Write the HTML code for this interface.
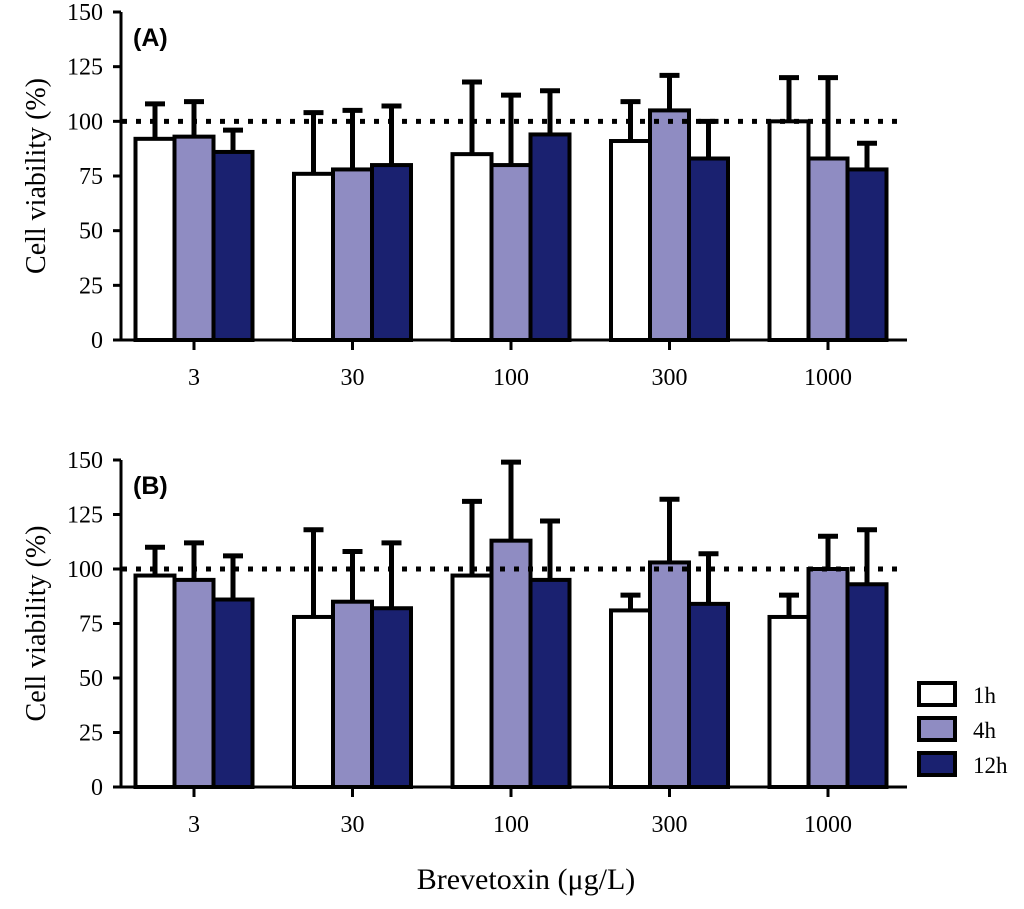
<!DOCTYPE html>
<html><head><meta charset="utf-8"><style>
body{margin:0;background:#fff}
svg text{font-family:"Liberation Serif",serif}
</style></head><body>
<svg id="c" width="1024" height="904" xmlns="http://www.w3.org/2000/svg"></svg>
<script>
const categories=["3","30","100","300","1000"];
const series=["1h","4h","12h"];
const colors=["#ffffff","#8f8cc2","#1a2170"];
const yTicks=[0,25,50,75,100,125,150];
const aMeans=[[92,76,85,91,100],[93,78,80,105,83],[86,80,94,83,78]];
const aTops=[[108,104,118,109,120],[109,105,112,121,120],[96,107,114,100,90]];
const bMeans=[[97,78,97,81,78],[95,85,113,103,100],[86,82,95,84,93]];
const bTops=[[110,118,131,88,88],[112,108,149,132,115],[106,112,122,107,118]];
const NS="http://www.w3.org/2000/svg";
const svg=document.getElementById('c');
function mk(t,a,p){const e=document.createElementNS(NS,t);for(const k in a)e.setAttribute(k,a[k]);(p||svg).appendChild(e);return e;}
function panel(id,y0,y150,means,tops,label){
  const g=mk('g',{});
  
  
  const y=v=>y0+(y150-y0)*v/150;
  const gx=i=>194+i*158.5;
  const bw=39;
  for(let s=0;s<3;s++)for(let i=0;i<5;i++){
    const x=gx(i)+(s-1)*bw-bw/2, cx=x+bw/2;
    const eb=mk('g',{},g);
    
    
    mk('line',{x1:cx,x2:cx,y1:y(means[s][i]),y2:y(tops[s][i]),stroke:'#000','stroke-width':5},eb);
    mk('line',{x1:cx-10,x2:cx+10,y1:y(tops[s][i]),y2:y(tops[s][i]),stroke:'#000','stroke-width':5},eb);
  }
  for(let s=0;s<3;s++)for(let i=0;i<5;i++){
    const x=gx(i)+(s-1)*bw-bw/2;
    const r=mk('rect',{x:x,y:y(means[s][i]),width:bw,height:y(0)-y(means[s][i]),fill:colors[s],stroke:'#000','stroke-width':4},g);
    
    
  }
  const ref=mk('line',{x1:122,x2:905,y1:y(100),y2:y(100),stroke:'#000','stroke-width':5,'stroke-dasharray':'5 9'},g);
  
  
  const ya=mk('line',{x1:121,x2:121,y1:y(0)+1,y2:y(150),stroke:'#000','stroke-width':3},g);
  
  const xa=mk('line',{x1:120,x2:907,y1:y(0),y2:y(0),stroke:'#000','stroke-width':3},g);
  
  yTicks.forEach(v=>{
    mk('line',{x1:113,x2:121,y1:y(v),y2:y(v),stroke:'#000','stroke-width':3},g);
    const t=mk('text',{x:103,y:y(v)+8,'text-anchor':'end','font-size':24},g);
    t.textContent=v;
    
  });
  categories.forEach((c,i)=>{
    mk('line',{x1:gx(i),x2:gx(i),y1:y(0),y2:y(0)+10,stroke:'#000','stroke-width':3},g);
    const t=mk('text',{x:gx(i),y:y(0)+45,'text-anchor':'middle','font-size':24},g);
    t.textContent=c;
    
  });
  const yl=mk('text',{x:0,y:0,'text-anchor':'middle','font-size':28,transform:`translate(45,${(y(0)+y(150))/2}) rotate(-90)`},g);
  yl.textContent='Cell viability (%)';
  
  const pl=mk('text',{x:133,y:y(150)+34,'font-size':25,'font-weight':'bold',style:'font-family:"Liberation Sans",sans-serif'},g);
  pl.textContent=label;
  
}
panel('a',340,12,aMeans,aTops,'(A)');
panel('b',787,460,bMeans,bTops,'(B)');
const xt=mk('text',{x:526,y:889,'text-anchor':'middle','font-size':30});
xt.textContent='Brevetoxin (μg/L)';

const lg=mk('g',{});

series.forEach((s,i)=>{
  const e=mk('g',{},lg);
  
  mk('rect',{x:919,y:683+i*35,width:36,height:22,fill:colors[i],stroke:'#000','stroke-width':4},e);
  const t=mk('text',{x:973,y:703+i*35,'font-size':23},e);t.textContent=s;
});
</script>
</body></html>
